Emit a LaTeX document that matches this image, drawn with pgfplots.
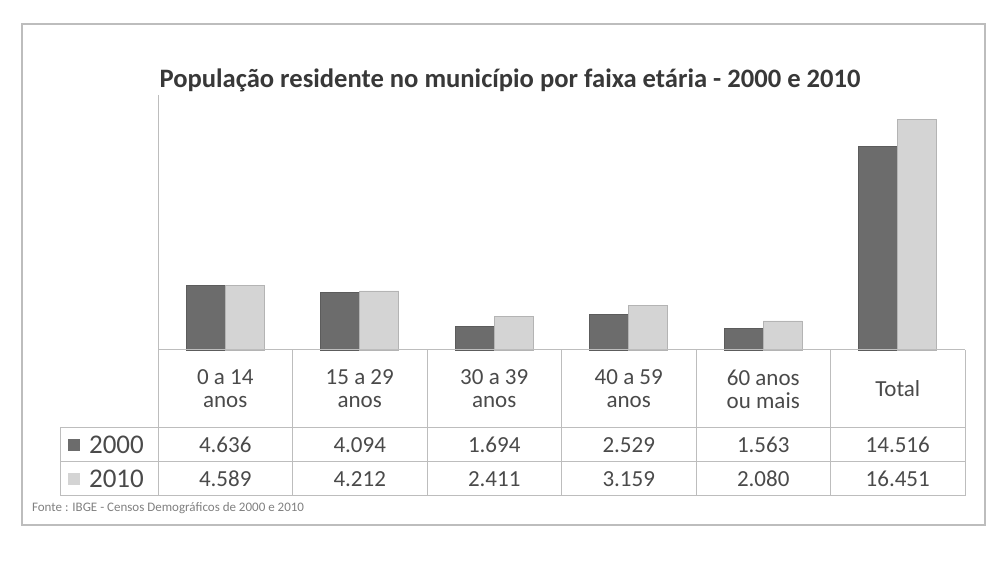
\documentclass[border=0pt]{standalone}
\usepackage{pgfplots}
\pgfplotsset{compat=1.18}
\usepackage{fontspec}
\setmainfont{Carlito}
\definecolor{dkA}{HTML}{6C6C6C}
\definecolor{ltA}{HTML}{D4D4D4}
\definecolor{gridc}{HTML}{BDBDBD}
\definecolor{txt}{HTML}{4A4A4A}
\begin{document}
\begin{tikzpicture}
\useasboundingbox (0,0) rectangle (498pt,282.5pt);
\begin{axis}[at={(79pt,107.5pt)}, anchor=south west, scale only axis,
  width=403.5pt, height=127.5pt, xmin=-0.5, xmax=5.5, ymin=0, ymax=18200,
  hide axis, ybar=0pt, bar width=19.5pt, clip=false]
\addplot[draw=dkA!85!black, line width=0.3pt, fill=dkA]
  coordinates {(0,4636) (1,4094) (2,1694) (3,2529) (4,1563) (5,14516)};
\addplot[draw=ltA!85!black, line width=0.3pt, fill=ltA]
  coordinates {(0,4589) (1,4212) (2,2411) (3,3159) (4,2080) (5,16451)};
\end{axis}
\begin{scope}[x=0.5pt, y=0.5pt, shift={(0,565)}, yscale=-1]
  \draw[gridc, line width=0.6pt] (22,24) rectangle (985,525);
  \node[font=\bfseries\fontsize{13.3}{15}\selectfont, text=black!78] at (510,80)
    {População residente no município por faixa etária - 2000 e 2010};
  \draw[gridc, line width=0.5pt] (158,95) -- (158,496);
  \draw[gridc, line width=0.5pt] (158,350) -- (965,350);
  \foreach \xx in {292.5,427,561.5,696,830.5,965}
    \draw[gridc, line width=0.5pt] (\xx,350) -- (\xx,496);
  \foreach \yy in {428,462,496}
    \draw[gridc, line width=0.5pt] (60,\yy) -- (965,\yy);
  \draw[gridc, line width=0.5pt] (60,428) -- (60,496);
  % category labels
  \foreach \lab [count=\i from 0] in {{0 a 14\\anos},{15 a 29\\anos},{30 a 39\\anos},{40 a 59\\anos},{60 anos\\ou mais},{Total}}
    \node[font=\fontsize{11.5}{11.5}\selectfont, text=txt, align=center] at (225.25+134.5*\i,389) {\lab};
  % row header
  \fill[dkA] (68,439) rectangle (80,451);
  \fill[ltA] (68,473) rectangle (80,485);
  \node[anchor=west, font=\fontsize{13.5}{15}\selectfont, text=txt] at (82,445) {2000};
  \node[anchor=west, font=\fontsize{13.5}{15}\selectfont, text=txt] at (82,479) {2010};
  % values
  \foreach \v [count=\i from 0] in {4.636,4.094,1.694,2.529,1.563,14.516}
    \node[font=\fontsize{11.5}{13}\selectfont, text=txt] at (225.25+134.5*\i,445) {\v};
  \foreach \v [count=\i from 0] in {4.589,4.212,2.411,3.159,2.080,16.451}
    \node[font=\fontsize{11.5}{13}\selectfont, text=txt] at (225.25+134.5*\i,479) {\v};
  \node[anchor=west, font=\fontsize{6.5}{8}\selectfont, text=gray] at (25,508)
    {Fonte : IBGE - Censos Demográficos de 2000 e 2010};
\end{scope}
\end{tikzpicture}
\end{document}
